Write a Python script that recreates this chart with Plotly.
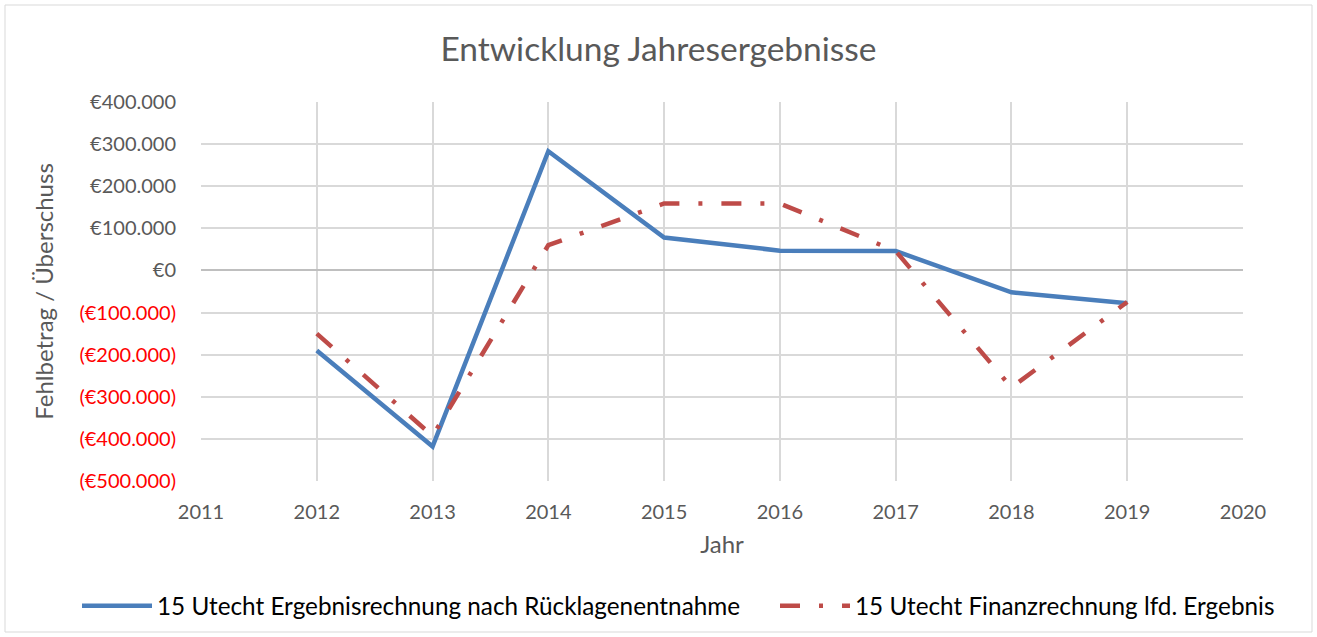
import plotly.graph_objects as go

years = [2012, 2013, 2014, 2015, 2016, 2017, 2018, 2019]
ergebnis = [-190000, -418000, 283000, 78000, 47000, 46000, -52000, -78000]
finanz = [-150000, -393000, 60000, 159000, 159000, 46000, -278000, -75000]

name_erg = "15 Utecht Ergebnisrechnung nach Rücklagenentnahme"
name_fin = "15 Utecht Finanzrechnung lfd. Ergebnis"

y_tickvals = [400000, 300000, 200000, 100000, 0, -100000, -200000, -300000, -400000, -500000]
y_ticktext = ["€400.000", "€300.000", "€200.000", "€100.000", "€0",
              "<span style='color:#FF0000'>(€100.000)</span>",
              "<span style='color:#FF0000'>(€200.000)</span>",
              "<span style='color:#FF0000'>(€300.000)</span>",
              "<span style='color:#FF0000'>(€400.000)</span>",
              "<span style='color:#FF0000'>(€500.000)</span>"]
x_tickvals = list(range(2011, 2021))

FONT = "Lato, Carlito, Calibri, sans-serif"
GREY = "#595959"

W, H = 1317, 637
ML, MR, MT, MB = 5, 5, 102, 156
PW = W - ML - MR

fig = go.Figure()
fig.add_trace(go.Scatter(x=years, y=ergebnis, mode="lines", name=name_erg,
                         line=dict(color="#4A7EBB", width=4.5), legend="legend"))
fig.add_trace(go.Scatter(x=years, y=finanz, mode="lines", name=name_fin,
                         line=dict(color="#BE4B48", width=4.5, dash="20px,19px,4px,19px"),
                         legend="legend2"))

leg_common = dict(orientation="h", xref="container", xanchor="left",
                  yref="container", y=1 - 606 / H, yanchor="middle",
                  font=dict(size=24.3, color="black", family=FONT), itemwidth=70)

fig.update_layout(
    width=W, height=H,
    paper_bgcolor="white", plot_bgcolor="white",
    margin=dict(l=ML, r=MR, t=MT, b=MB, autoexpand=False),
    font=dict(family=FONT, color=GREY, size=20),
    title=dict(text="Entwicklung Jahresergebnisse", x=0.5, xanchor="center",
               y=1 - 49 / H, yanchor="middle",
               font=dict(size=33.5, color=GREY, family=FONT)),
    showlegend=True,
    legend=dict(x=77 / W, **leg_common),
    legend2=dict(x=775 / W, **leg_common),
    shapes=[dict(type="rect", xref="paper", yref="paper",
                 x0=0, x1=1, y0=-151 / 379, y1=1 + 97 / 379,
                 line=dict(color="#D9D9D9", width=1), fillcolor="rgba(0,0,0,0)", layer="below")],
)
fig.update_xaxes(domain=[(201 - ML) / PW, (1243 - ML) / PW],
                 range=[2011, 2020], tickvals=x_tickvals, showgrid=True,
                 gridcolor="#D9D9D9", gridwidth=2, zeroline=False, showline=False,
                 ticks="", ticklabelstandoff=17,
                 title=dict(text="Jahr", font=dict(size=24, color=GREY), standoff=14),
                 tickfont=dict(size=20, color=GREY))
fig.update_yaxes(range=[-500000, 400000], tickvals=y_tickvals, ticktext=y_ticktext,
                 showgrid=True, gridcolor="#D9D9D9", gridwidth=2,
                 zeroline=True, zerolinecolor="#BFBFBF", zerolinewidth=2,
                 showline=False, ticks="", ticklabelstandoff=24,
                 title=dict(text="Fehlbetrag / Überschuss", font=dict(size=24, color=GREY), standoff=18),
                 tickfont=dict(size=20, color=GREY))

fig.write_html("out.html", config={"displayModeBar": False},
               post_script="document.body.style.margin='0';document.body.style.overflow='hidden';")
